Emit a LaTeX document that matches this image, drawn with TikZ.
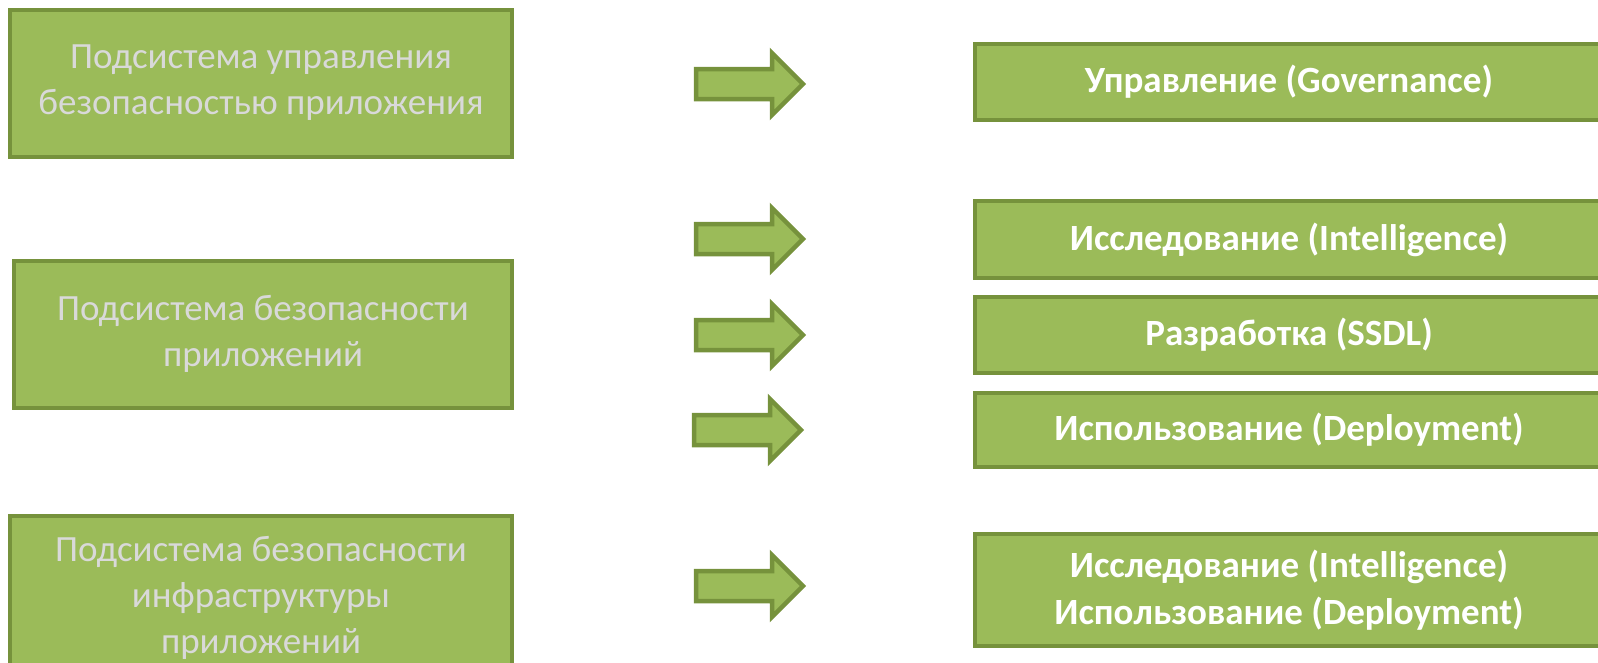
\documentclass[tikz,border=0pt]{standalone}
\usepackage{fontspec}
\setmainfont{Carlito}
\usepackage{tikz}
\usetikzlibrary{positioning}
\definecolor{olivefill}{RGB}{155, 187, 89}
\definecolor{oliveline}{RGB}{118, 146, 60}
\definecolor{paletext}{RGB}{217, 217, 217}

\tikzset{
  subsys/.style={draw=oliveline, fill=olivefill, line width=4pt, inner sep=0pt,
    minimum width=502pt, minimum height=147pt, align=center, text=paletext,
    font=\fontsize{37}{46}\selectfont},
  phase/.style={draw=oliveline, fill=olivefill, line width=4pt, inner sep=0pt,
    minimum width=628pt, minimum height=76pt, align=center, text=white,
    font=\fontsize{37}{47}\selectfont\bfseries},
  pics/fatarrow/.style={code={
    \draw[draw=oliveline, fill=olivefill, line width=4.5pt, line join=miter]
      (0,-15) -- (76,-15) -- (76,-31) -- (107,0) -- (76,31) -- (76,15) -- (0,15) -- cycle;
  }}
}

\begin{document}
\begin{tikzpicture}[x=1pt, y=-1pt]
  \useasboundingbox (0,0) rectangle (1598,662);

  % subsystems
  \node[subsys] (gov) at (261,83) {Подсистема управления\\безопасностью приложения};
  \node[subsys, minimum width=498pt] (app) at (263,334) {Подсистема безопасности\\приложений};
  \node[subsys, minimum height=164pt] (infra) at (261,598) {Подсистема безопасности\\инфраструктуры\\приложений};

  % phases
  \node[phase] (p1) at (1289,82) {Управление (Governance)};
  \node[phase, minimum height=77pt] (p2) at (1289,239.5) {Исследование (Intelligence)};
  \node[phase] (p3) at (1289,335) {Разработка (SSDL)};
  \node[phase, minimum height=74pt] (p4) at (1289,430) {Использование (Deployment)};
  \node[phase, minimum height=112pt] (p5) at (1289,590) {Исследование (Intelligence)\\Использование (Deployment)};

  % arrows
  \pic at (696,84) {fatarrow};
  \pic at (696,239) {fatarrow};
  \pic at (696,335) {fatarrow};
  \pic at (694,430) {fatarrow};
  \pic at (696,586) {fatarrow};
\end{tikzpicture}
\end{document}
